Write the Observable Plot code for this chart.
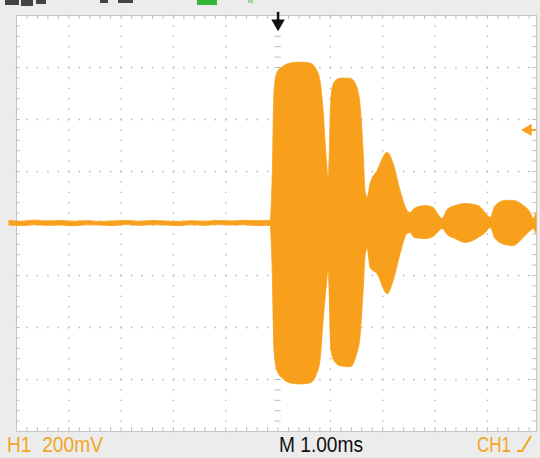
<!DOCTYPE html>
<html>
<head>
<meta charset="utf-8">
<script src="https://cdn.jsdelivr.net/npm/d3@7"></script>
<script src="https://cdn.jsdelivr.net/npm/@observablehq/plot@0.6"></script>
<style>
  html, body { margin: 0; padding: 0; background: #ececec; }
  #chart svg { display: block; overflow: hidden; }
</style>
</head>
<body>
<div id="chart"></div>
<script>
// ---- data (time in ms relative to trigger, envelope in mV) ----
const traceTime = [-5.13, -4.9, -4.65, -4.4, -4.15, -3.9, -3.65, -3.4, -3.15, -2.9, -2.65, -2.4, -2.15, -1.9, -1.65, -1.4, -1.15, -0.9, -0.65, -0.4, -0.18,
  -0.143, -0.105, -0.067, -0.010, 0.105, 0.239, 0.430, 0.621, 0.736, 0.813, 0.870, 0.927, 0.966,
  1.023, 1.080, 1.195, 1.386, 1.501, 1.577, 1.635, 1.673, 1.711,
  1.769, 1.902, 2.094, 2.208, 2.342, 2.476,
  2.533, 2.610, 2.820, 2.973, 3.069, 3.145,
  3.241, 3.394, 3.585, 3.834, 3.968, 4.063,
  4.159, 4.350, 4.503, 4.675, 4.828, 4.885, 4.94];
const traceHigh = [10, 7, 11, 8, 10, 7, 9, 6, 8, 10, 7, 10, 8, 6, 9, 7, 10, 8, 10, 9, 10,
  10, 164, 511, 580, 603, 615, 619, 615, 592, 545, 434, 260, 175,
  491, 541, 557, 557, 530, 453, 279, 125, 98,
  152, 202, 272, 229, 125, 48,
  40, 56, 67, 60, 33, 17,
  52, 67, 75, 67, 40, 21,
  67, 87, 87, 71, 40, 17, 40];
const traceLow = [-8, -10, -7, -9, -8, -11, -7, -8, -10, -6, -9, -7, -8, -10, -7, -9, -6, -8, -7, -10, -9,
  -9, -164, -491, -568, -599, -615, -619, -615, -585, -525, -376, -250, -183,
  -491, -530, -549, -553, -511, -434, -260, -125, -98,
  -171, -195, -272, -222, -118, -40,
  -37, -56, -60, -52, -33, -21,
  -44, -60, -75, -56, -37, -17,
  -60, -83, -87, -60, -29, -21, -40];

const divisionsX = [-4, -3, -2, -1, 1, 2, 3, 4];          // ms, 1.00 ms/div
const divisionsY = [-600, -400, -200, 200, 400, 600];      // mV, 200 mV/div
const triggerTime = [0];
const triggerLevel = [360];
const labelLeft = "H1  200mV";
const labelCenter = "M 1.00ms";
const labelRight = "CH1";

const ORANGE = "#f8a01c";
const TEXT_ORANGE = "#f2a51e";

const trace = traceTime.map((t, i) => ({t, hi: traceHigh[i], lo: traceLow[i]}));

const minorX = d3.range(0, 50).map(i => -5 + i * 0.2);
const minorY = d3.range(0, 41).map(i => -800 + i * 40);
const gridDots = [
  ...divisionsX.flatMap(x => minorY.map(y => ({x, y}))),
  ...divisionsY.flatMap(y => minorX.map(x => ({x, y})))
];

const tickColor = "#bdbdbd";

const svg = Plot.plot({
  width: 540,
  height: 458,
  marginLeft: 16,
  marginRight: 4,
  marginTop: 15,
  marginBottom: 27,
  style: {background: "#ececec", overflow: "hidden"},
  x: {domain: [-5, 4.94], axis: null},
  y: {domain: [-800, 800], axis: null},
  marks: [
    Plot.frame({fill: "white", stroke: null}),
    Plot.dot(gridDots, {x: "x", y: "y", r: 0.9, fill: "#c0c0c0", stroke: null}),
    // center cross ticks
    Plot.ruleY(minorY, {y: d => d, x1: -0.06, x2: 0.06, stroke: tickColor, strokeWidth: 1}),
    Plot.ruleX(minorX, {x: d => d, y1: -12, y2: 12, stroke: tickColor, strokeWidth: 1}),
    // border ticks
    Plot.ruleX(minorX, {x: d => d, y1: 800, y2: 785, stroke: tickColor}),
    Plot.ruleX(minorX, {x: d => d, y1: -800, y2: -785, stroke: tickColor}),
    Plot.ruleY(minorY, {y: d => d, x1: -5, x2: -4.93, stroke: tickColor}),
    Plot.ruleY(minorY, {y: d => d, x1: 4.87, x2: 4.94, stroke: tickColor}),
    Plot.frame({stroke: "#c6c6c6"}),
    // signal envelope
    Plot.areaY(trace, {x: "t", y1: "lo", y2: "hi", fill: ORANGE, stroke: ORANGE, strokeWidth: 0.8, curve: "monotone-x"}),
    // trigger position marker
    Plot.ruleX(triggerTime, {x: d => d, y1: 812, y2: 775, stroke: "#111", strokeWidth: 2.5}),
    Plot.dot(triggerTime, {x: d => d, y: 800, dy: 8, symbol: "triangle", rotate: 180, r: 5, fill: "#111", stroke: null}),
    // trigger level marker
    Plot.ruleY(triggerLevel, {y: d => d, x1: 4.8, x2: 4.94, stroke: ORANGE, strokeWidth: 2}),
    Plot.dot(triggerLevel, {x: 4.78, y: d => d, symbol: "triangle", rotate: -90, r: 4.5, fill: ORANGE, stroke: null})
  ]
});

// header fragments (cropped instrument header) and status line
const s = d3.select(svg);
s.append("rect").attr("x", 197).attr("y", 0).attr("width", 20).attr("height", 5).attr("fill", "#35b535");
s.append("rect").attr("x", 248).attr("y", 0).attr("width", 5).attr("height", 3).attr("fill", "#9fd89f");
[[5, 14, 5], [21, 12, 6], [36, 10, 4], [100, 8, 3], [118, 15, 3]].forEach(([x, w, h]) =>
  s.append("rect").attr("x", x).attr("y", 0).attr("width", w).attr("height", h).attr("fill", "#444"));

const font = "'Liberation Sans Narrow', 'Liberation Sans', Arial, sans-serif";
function label(txt, x, len, color) {
  s.append("text").attr("x", x).attr("y", 451.5)
    .attr("text-anchor", "start")
    .style("white-space", "pre")
    .style("font-family", font).style("font-size", "22.5px").attr("fill", color)
    .attr("textLength", len).attr("lengthAdjust", "spacingAndGlyphs").text(txt);
}
label(labelLeft, 7, 96, TEXT_ORANGE);
label(labelCenter, 279, 84, "#111");
label(labelRight, 477, 34, TEXT_ORANGE);
s.append("path").attr("d", "M517,451 L522,451 L531,436").attr("fill", "none")
  .attr("stroke", TEXT_ORANGE).attr("stroke-width", 2);

document.getElementById("chart").appendChild(svg);
</script>
</body>
</html>
